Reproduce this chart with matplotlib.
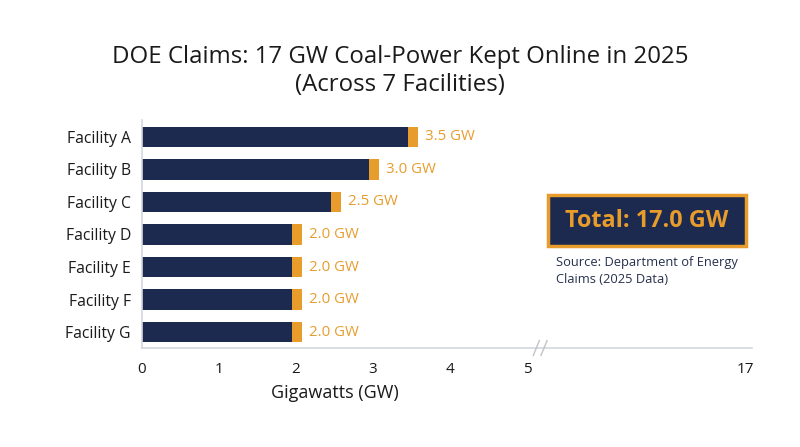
import matplotlib.pyplot as plt
from matplotlib.patches import Rectangle

facilities = ['Facility A', 'Facility B', 'Facility C', 'Facility D',
              'Facility E', 'Facility F', 'Facility G']
gw = [3.5, 3.0, 2.5, 2.0, 2.0, 2.0, 2.0]
total_gw = 17.0
tick_vals = [0, 1, 2, 3, 4, 5]
far_tick = 17
far_pos = 7.83  # where the 17 tick sits after the axis break

navy = '#1c2a50'
orange = '#e89c2c'
grey = '#d3d7dd'
txt = '#1a1a1a'

plt.rcParams['font.family'] = ['Open Sans', 'DejaVu Sans']

fig = plt.figure(figsize=(8, 4.47), dpi=100)
ax = fig.add_axes([0.1775, 0.2215, 0.7625, 0.51])

rows = list(range(len(facilities)))
cap = 0.13
ax.barh(rows, [v - 0.05 for v in gw], height=0.62, color=navy, zorder=2)
ax.barh(rows, [cap] * len(gw), left=[v - 0.05 for v in gw], height=0.62,
        color=orange, zorder=2)
for r, v in zip(rows, gw):
    ax.text(v + cap + 0.04, r, f'{v:.1f} GW', color=orange, fontsize=10.8,
            va='center', ha='left')

ax.set_xlim(0, 7.92)
ax.set_ylim(6.49, -0.52)
ax.set_yticks(rows)
ax.set_yticklabels(facilities, fontsize=11.3, color=txt)
ax.set_xticks(tick_vals + [far_pos])
ax.set_xticklabels([str(t) for t in tick_vals] + [str(far_tick)], fontsize=11, color=txt)
ax.tick_params(length=0, pad=8)
ax.tick_params(axis='x', pad=10)
for s in ['top', 'right']:
    ax.spines[s].set_visible(False)
for s in ['left', 'bottom']:
    ax.spines[s].set_color(grey)
    ax.spines[s].set_linewidth(1.2)

# axis break marks
for dx in (5.12, 5.22):
    ax.plot([dx - 0.04, dx + 0.04], [6.72, 6.26], color='#c0c4ca', lw=1,
            clip_on=False, zorder=3)

fig.text(335 / 800, 1 - 393 / 447, 'Gigawatts (GW)', fontsize=13, color=txt,
         ha='center', va='center')

fig.text(0.5, 0.872, 'DOE Claims: 17 GW Coal-Power Kept Online in 2025',
         ha='center', va='center', fontsize=17.3, color=txt)
fig.text(0.5, 0.809, '(Across 7 Facilities)', ha='center', va='center',
         fontsize=17.3, color=txt)

# total box
box = Rectangle((548 / 800, 1 - 246 / 447), 198 / 800, 51 / 447,
                transform=fig.transFigure, facecolor=navy, edgecolor=orange,
                linewidth=2.5)
fig.patches.append(box)
fig.text(647 / 800, 1 - 221 / 447, f'Total: {total_gw:.1f} GW', ha='center',
         va='center', fontsize=16.8, fontweight='bold', color=orange)
fig.text(556 / 800, 1 - 271 / 447, 'Source: Department of Energy\nClaims (2025 Data)',
         ha='left', va='center', fontsize=9.3, color='#25304c', linespacing=1.35)

fig.savefig('out.png', dpi=100)
